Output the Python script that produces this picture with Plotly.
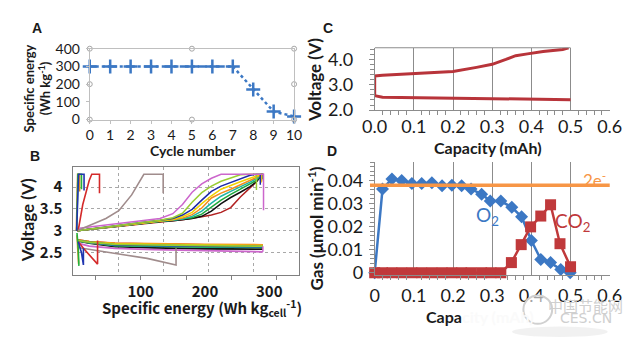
import plotly.graph_objects as go

W, H = 640, 347

# ---------------- Panel A: specific energy vs cycle ----------------
cycle_no = [0, 1, 2, 3, 4, 5, 6, 7, 8, 9, 10]
cycle_energy = [300, 300, 300, 300, 300, 300, 300, 300, 170, 45, 18]

# ---------------- Panel B: voltage vs specific energy ----------------
# shared specific-energy grid for the full-depth charge curves (Wh kg_cell^-1)
chg_E = [1, 50, 100, 130, 150, 165, 180, 195, 210, 225, 240, 255, 270, 280, 288]
chg_V_violet = [3.05, 3.14, 3.23, 3.28, 3.39, 3.60, 3.88, 4.07, 4.20, 4.29, 4.29, 4.29, 4.29, 4.29, 4.29]
chg_V_lime = [3.00, 3.10, 3.19, 3.24, 3.30, 3.40, 3.65, 3.87, 4.02, 4.13, 4.21, 4.28, 4.29, 4.29, 4.29]
chg_V_blue = [3.00, 3.10, 3.19, 3.24, 3.28, 3.36, 3.49, 3.70, 3.90, 4.02, 4.10, 4.19, 4.27, 4.29, 4.29]
chg_V_yellow = [3.00, 3.09, 3.18, 3.23, 3.26, 3.32, 3.42, 3.62, 3.80, 3.95, 4.04, 4.12, 4.20, 4.26, 4.29]
chg_V_orange = [3.00, 3.09, 3.18, 3.23, 3.25, 3.29, 3.37, 3.52, 3.75, 3.86, 3.95, 4.05, 4.15, 4.22, 4.29]
chg_V_teal = [3.00, 3.09, 3.18, 3.22, 3.24, 3.27, 3.33, 3.45, 3.63, 3.79, 3.90, 4.00, 4.11, 4.19, 4.29]
chg_V_green = [3.00, 3.08, 3.17, 3.22, 3.24, 3.26, 3.30, 3.38, 3.54, 3.70, 3.83, 3.95, 4.07, 4.15, 4.29]
chg_V_black = [3.00, 3.08, 3.17, 3.21, 3.23, 3.25, 3.28, 3.33, 3.45, 3.62, 3.76, 3.88, 4.01, 4.12, 4.29]
chg_V_darkred = [3.00, 3.08, 3.16, 3.21, 3.23, 3.25, 3.28, 3.32, 3.36, 3.42, 3.53, 3.77, 3.98, 4.12, 4.29]

# end of charge: position of the final step and the relaxed voltage
chg_end_E = [291, 280, 286, 287, 288, 288, 289, 289, 290]
chg_rest_V = [3.47, 3.93, 4.05, 4.10, 4.12, 4.15, 4.18, 4.20, 4.22]

# shared grid for the full-depth discharge curves
dis_E = [2, 20, 60, 120, 200, 290]
dis_V_violet = [2.72, 2.65, 2.60, 2.57, 2.55, 2.52]
dis_V_lime = [2.78, 2.74, 2.69, 2.67, 2.66, 2.65]
dis_V_blue = [2.78, 2.74, 2.68, 2.66, 2.65, 2.64]
dis_V_yellow = [2.78, 2.74, 2.70, 2.68, 2.67, 2.66]
dis_V_orange = [2.79, 2.75, 2.72, 2.70, 2.69, 2.68]
dis_V_teal = [2.78, 2.73, 2.67, 2.65, 2.64, 2.63]
dis_V_green = [2.77, 2.73, 2.66, 2.64, 2.63, 2.62]
dis_V_black = [2.77, 2.72, 2.64, 2.61, 2.59, 2.58]
dis_V_darkred = [2.79, 2.75, 2.71, 2.69, 2.68, 2.67]

# shallower cycles
gray_chg_E = [1, 11, 46, 66, 86, 105, 135, 135]
gray_chg_V = [3.00, 3.06, 3.28, 3.46, 3.82, 4.29, 4.29, 3.86]
gray_dis_E = [2, 30, 66, 110, 155, 155]
gray_dis_V = [2.62, 2.55, 2.47, 2.37, 2.22, 2.60]

red_chg_E = [1, 4, 10, 20, 24, 36, 36]
red_chg_V = [3.00, 3.10, 3.60, 4.15, 4.29, 4.29, 3.86]
red_dis_E = [3, 11, 33, 33]
red_dis_V = [2.75, 2.60, 2.24, 2.78]

sgreen_chg_E = [0.5, 1.5, 2.5, 8, 8]
sgreen_chg_V = [3.00, 3.60, 4.29, 4.29, 3.95]
sgreen_dis_E = [1, 3, 4]
sgreen_dis_V = [2.95, 2.60, 2.20]

sblue_chg_E = [0.5, 2, 3.5, 12, 12]
sblue_chg_V = [3.00, 3.70, 4.29, 4.29, 3.92]
sblue_dis_E = [3, 8, 11, 11]
sblue_dis_V = [2.75, 2.50, 2.22, 2.60]

sorange_chg_E = [0, 1, 2, 5, 5]
sorange_chg_V = [3.00, 3.80, 4.29, 4.29, 3.90]
sorange_dis_E = [1, 2.5, 3.5]
sorange_dis_V = [2.90, 2.50, 2.25]

b_xtick_vals = [100, 200, 300]
b_ytick_vals = [2.5, 3, 3.5, 4]

# ---------------- Panel C: first-cycle voltage profile ----------------
c_dis_cap = [0.0, 0.02, 0.1, 0.3, 0.5]
c_dis_v = [2.57, 2.51, 2.47, 2.44, 2.41]
c_chg_cap = [0.0, 0.02, 0.1, 0.2, 0.26, 0.3, 0.335, 0.36, 0.39, 0.43, 0.48, 0.495]
c_chg_v = [3.34, 3.37, 3.43, 3.52, 3.68, 3.80, 3.99, 4.14, 4.21, 4.30, 4.38, 4.45]

# ---------------- Panel D: gas evolution ----------------
o2_cap = [0, 0.02, 0.044, 0.069, 0.095, 0.12, 0.146, 0.172, 0.197, 0.222, 0.246,
          0.273, 0.295, 0.322, 0.35, 0.375, 0.40, 0.424, 0.449, 0.475, 0.499]
o2_rate = [0, 0.0363, 0.0407, 0.0400, 0.0387, 0.0387, 0.0390, 0.0377, 0.0380, 0.0377, 0.0363,
           0.0341, 0.0311, 0.0311, 0.0284, 0.0243, 0.0140, 0.0058, 0.0044, 0.0014, 0.0]
co2_cap = [0, 0.02, 0.044, 0.069, 0.095, 0.12, 0.146, 0.172, 0.197, 0.222, 0.246,
           0.273, 0.297, 0.322, 0.349, 0.374, 0.398, 0.424, 0.449, 0.473, 0.50]
co2_rate = [0, 0, 0, 0, 0, 0, 0, 0, 0, 0, 0, 0, 0, 0,
            0.0044, 0.0122, 0.0199, 0.0246, 0.0295, 0.0126, 0.0026]
two_e_rate = 0.038

# ---------------- styling ----------------
BLUE = "#3C78C4"
RED = "#C0393B"
ORANGE = "#F79646"
AXIS_GRAY = "#8C8C8C"
LIGHT_GRAY = "#BFBFBF"
TXT = "#1a1a1a"


def px_x(p):
    return p / W


def px_y(p):
    return 1 - p / H


fig = go.Figure()

# ---- A
fig.add_trace(go.Scatter(x=cycle_no[:8], y=cycle_energy[:8], mode="lines",
                         line=dict(color=BLUE, width=2.5, dash="dashdot"),
                         xaxis="x", yaxis="y", cliponaxis=False))
fig.add_trace(go.Scatter(x=cycle_no[7:], y=cycle_energy[7:], mode="lines",
                         line=dict(color=BLUE, width=2.5, dash="dot"),
                         xaxis="x", yaxis="y", cliponaxis=False))
fig.add_trace(go.Scatter(x=cycle_no, y=cycle_energy, mode="markers",
                         marker=dict(symbol="cross-thin", size=10,
                                     line=dict(color=BLUE, width=2.5)),
                         xaxis="x", yaxis="y", cliponaxis=False))
# frame handles on the plot-area border
a_xr, a_yr = [0, 10], [0, 400]
hx = [a_xr[0], (a_xr[0] + a_xr[1]) / 2, a_xr[1], a_xr[1], a_xr[1], (a_xr[0] + a_xr[1]) / 2, a_xr[0], a_xr[0]]
hy = [a_yr[1], a_yr[1], a_yr[1], (a_yr[0] + a_yr[1]) / 2, a_yr[0], a_yr[0], a_yr[0], (a_yr[0] + a_yr[1]) / 2]
fig.add_trace(go.Scatter(x=hx, y=hy, mode="markers",
                         marker=dict(symbol="circle-open", size=5, color="#A6A6A6",
                                     line=dict(width=1)),
                         xaxis="x", yaxis="y", cliponaxis=False))

# ---- B
main_cycles = [
    ("#CC66CC", chg_V_violet, dis_V_violet),
    ("#9ACD32", chg_V_lime, dis_V_lime),
    ("#1C2BA8", chg_V_blue, dis_V_blue),
    ("#F2D100", chg_V_yellow, dis_V_yellow),
    ("#F28C1E", chg_V_orange, dis_V_orange),
    ("#1FB5A5", chg_V_teal, dis_V_teal),
    ("#1FA83A", chg_V_green, dis_V_green),
    ("#111111", chg_V_black, dis_V_black),
    ("#B22222", chg_V_darkred, dis_V_darkred),
]
# draw the lowest curves first so the earlier cycles sit on top
for i in reversed(range(len(main_cycles))):
    col, cv, dv = main_cycles[i]
    ex = chg_E + [chg_end_E[i], chg_end_E[i]]
    ey = cv + [cv[-1], chg_rest_V[i]]
    fig.add_trace(go.Scatter(x=ex, y=ey, mode="lines", line=dict(color=col, width=1.5),
                             xaxis="x2", yaxis="y2"))
    fig.add_trace(go.Scatter(x=dis_E, y=dv, mode="lines", line=dict(color=col, width=1.8),
                             xaxis="x2", yaxis="y2"))
# final step of the violet discharge
fig.add_trace(go.Scatter(x=[dis_E[-1], dis_E[-1]], y=[dis_V_violet[-1], dis_V_lime[-1]],
                         mode="lines", line=dict(color="#CC66CC", width=1.5),
                         xaxis="x2", yaxis="y2"))

short_cycles = [
    ("#A08C8C", gray_chg_E, gray_chg_V, gray_dis_E, gray_dis_V),
    ("#D42A2A", red_chg_E, red_chg_V, red_dis_E, red_dis_V),
    ("#E08A1E", sorange_chg_E, sorange_chg_V, sorange_dis_E, sorange_dis_V),
    ("#22B03A", sgreen_chg_E, sgreen_chg_V, sgreen_dis_E, sgreen_dis_V),
    ("#2035B0", sblue_chg_E, sblue_chg_V, sblue_dis_E, sblue_dis_V),
]
for col, ce, cv, de, dv in short_cycles:
    fig.add_trace(go.Scatter(x=ce, y=cv, mode="lines", line=dict(color=col, width=1.6),
                             xaxis="x2", yaxis="y2"))
    fig.add_trace(go.Scatter(x=de, y=dv, mode="lines", line=dict(color=col, width=1.6),
                             xaxis="x2", yaxis="y2"))

# empty trace that carries the labelled energy axis
fig.add_trace(go.Scatter(x=[None], y=[None], mode="lines", xaxis="x5", yaxis="y2",
                         hoverinfo="skip"))

# ---- C
fig.add_trace(go.Scatter(x=c_dis_cap[::-1] + c_chg_cap, y=c_dis_v[::-1] + c_chg_v,
                         mode="lines", line=dict(color="#B8343A", width=3),
                         xaxis="x3", yaxis="y3", cliponaxis=False))

# ---- D
fig.add_trace(go.Scatter(x=o2_cap, y=o2_rate, mode="lines+markers",
                         line=dict(color=BLUE, width=2.5),
                         marker=dict(symbol="diamond", size=10, color=BLUE),
                         xaxis="x4", yaxis="y4", cliponaxis=False))
fig.add_trace(go.Scatter(x=co2_cap, y=co2_rate, mode="lines+markers",
                         line=dict(color=RED, width=2.5),
                         marker=dict(symbol="square", size=11, color=RED),
                         xaxis="x4", yaxis="y4", cliponaxis=False))

fig.add_shape(type="line", xref="x4 domain", yref="y4", x0=-0.02, x1=1.0,
              y0=two_e_rate, y1=two_e_rate, line=dict(color=ORANGE, width=3.5))
# top border of panel C
fig.add_shape(type="line", xref="x3", yref="y3 domain", x0=0, x1=0.5, y0=1, y1=1,
              line=dict(color=AXIS_GRAY, width=1))

tick_lato = dict(family="Lato", size=18, color=TXT)
b_font = "Noto Sans CJK KR"

fig.update_layout(
    width=W, height=H, margin=dict(l=0, r=0, t=0, b=0),
    paper_bgcolor="white", plot_bgcolor="white", showlegend=False,
    xaxis=dict(domain=[px_x(80), px_x(293)], range=a_xr, anchor="y",
               tickvals=cycle_no, ticks="outside", ticklen=3, tickcolor=LIGHT_GRAY,
               showline=True, linecolor=LIGHT_GRAY, mirror=True, showgrid=False,
               zeroline=False, tickfont=dict(family="Lato", size=14, color=TXT)),
    yaxis=dict(domain=[px_y(117), px_y(42)], range=a_yr, anchor="x",
               tickvals=[0, 100, 200, 300, 400], ticks="outside", ticklen=3,
               tickcolor=LIGHT_GRAY, showline=True, linecolor=LIGHT_GRAY, mirror=True,
               showgrid=False, zeroline=False, ticklabelstandoff=3,
               tickfont=dict(family="Lato", size=14, color=TXT)),
    xaxis2=dict(domain=[px_x(63), px_x(298)], range=[-4.5, 346], anchor="y2",
                tick0=65.5, dtick=70, showticklabels=False, ticks="",
                showgrid=True, griddash="dot", gridcolor="#A8A8A8", gridwidth=1,
                minor=dict(tick0=-4.5, dtick=35, ticks="outside", ticklen=4,
                           tickcolor="#808080", showgrid=False),
                showline=True, linecolor="#808080", mirror=True, zeroline=False),
    xaxis5=dict(domain=[px_x(63), px_x(298)], range=[-4.5, 346], anchor="y2",
                overlaying="x2", side="bottom", tickvals=b_xtick_vals, ticks="",
                showgrid=False, showline=False, zeroline=False, ticklabelstandoff=6,
                tickfont=dict(family=b_font, size=15, color=TXT, weight=700)),
    yaxis2=dict(domain=[px_y(281), px_y(167)], range=[2.0, 4.46], anchor="x2",
                tickvals=b_ytick_vals, ticks="", showgrid=True, griddash="dot",
                gridcolor="#A8A8A8", showline=True, linecolor="#808080", mirror=True,
                zeroline=False, ticklabelstandoff=7,
                tickfont=dict(family=b_font, size=15, color=TXT, weight=700)),
    xaxis3=dict(domain=[px_x(377), px_x(622)], range=[0, 0.6], anchor="y3",
                dtick=0.1, tickformat=".1f", ticks="", showgrid=True,
                gridcolor=AXIS_GRAY, gridwidth=1, showline=True, linecolor=AXIS_GRAY,
                zeroline=False, tickfont=tick_lato,
                minor=dict(dtick=0.02, ticks="outside", ticklen=4, tickcolor=AXIS_GRAY,
                           showgrid=False)),
    yaxis3=dict(domain=[px_y(107), px_y(41)], range=[2.0, 4.45], anchor="x3",
                tickvals=[2.0, 3.0, 4.0], tickformat=".1f", ticks="outside", ticklen=5,
                tickcolor=AXIS_GRAY, showgrid=False, showline=True, linecolor=AXIS_GRAY,
                zeroline=False, tickfont=tick_lato, ticklabelstandoff=12,
                minor=dict(dtick=0.2, ticks="outside", ticklen=4, tickcolor=AXIS_GRAY)),
    xaxis4=dict(domain=[px_x(377), px_x(622)], range=[0, 0.6], anchor="y4",
                dtick=0.1, ticks="", showgrid=True, gridcolor=AXIS_GRAY, gridwidth=1,
                showline=True, linecolor=AXIS_GRAY, zeroline=False, tickfont=tick_lato,
                ticklabelstandoff=4,
                minor=dict(dtick=0.02, ticks="outside", ticklen=4, tickcolor=AXIS_GRAY,
                           showgrid=False)),
    yaxis4=dict(domain=[px_y(281.7), px_y(162)], range=[-0.0011, 0.048], anchor="x4",
                tickvals=[0, 0.01, 0.02, 0.03, 0.04], ticks="outside", ticklen=5,
                tickcolor=AXIS_GRAY, showgrid=False, showline=True, linecolor=AXIS_GRAY,
                zeroline=False, tickfont=tick_lato, ticklabelstandoff=2,
                minor=dict(dtick=0.002, ticks="outside", ticklen=4, tickcolor=AXIS_GRAY)),
)


def note(text, xp, yp, size, color=TXT, family="Lato", bold=True, angle=0,
         xanchor="center", yanchor="middle"):
    fig.add_annotation(text=text, x=px_x(xp), y=px_y(yp), xref="paper", yref="paper",
                       showarrow=False, textangle=angle, xanchor=xanchor, yanchor=yanchor,
                       font=dict(family=family, size=size, color=color,
                                 weight=700 if bold else 400))


# panel letters
note("A", 25, 20, 14, family="Liberation Sans")
note("B", 23, 155, 14, family="Liberation Sans")
note("C", 328, 20, 14, family="Liberation Sans")
note("D", 333, 150, 14, family="Liberation Sans")

# axis titles
note("Specific energy<br>(Wh kg<sup>-1</sup>)", 25, 84, 13, angle=-90)
note("Cycle number", 188, 150, 14)
note("Voltage (V)", 15, 223, 17, family="Lato", angle=-90)
note("Specific energy (Wh kg<sub>cell</sub><sup>-1</sup>)", 197, 316, 15, family=b_font)
note("Voltage (V)", 315, 75, 17, angle=-90)
note("Capacity (mAh)", 495, 147, 16)
note("Gas (μmol min<sup>-1</sup>)", 315, 232, 17, angle=-90)
note('Capa<span style="color:#fafafa">city (mAh)</span>', 487, 325, 16)

# series labels in D
note("O<sub>2</sub>", 495, 219, 19, color=BLUE, bold=False)
note("CO<sub>2</sub>", 583, 225, 19, color=RED, bold=False)
note("2e<sup>-</sup>", 606, 180, 17, color=ORANGE, bold=False)

# site watermark
fig.add_shape(type="circle", xref="paper", yref="paper",
              x0=px_x(532), x1=px_x(562), y0=px_y(333), y1=px_y(303),
              line=dict(color="#D0D0D0", width=2), fillcolor="rgba(255,255,255,0.6)")
fig.add_shape(type="circle", xref="paper", yref="paper",
              x0=px_x(520), x1=px_x(620), y0=px_y(347), y1=px_y(336),
              line=dict(width=0), fillcolor="rgba(200,200,200,0.25)")
note("中国节能网", 597, 314, 15, color="#CFCFCF", family="Noto Sans CJK SC", bold=False)
note("CES.CN", 597, 327, 14, color="#CFCFCF", family="DejaVu Sans", bold=False)

fig.write_html("out.html")
